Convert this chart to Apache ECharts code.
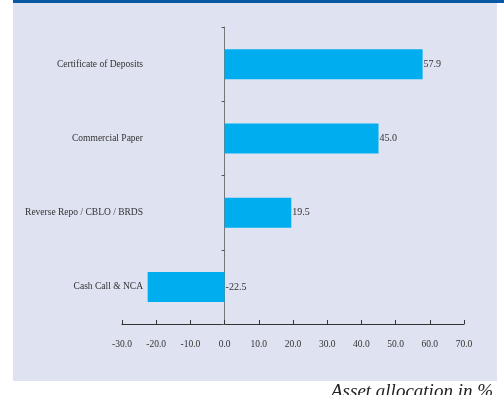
<!DOCTYPE html>
<html><head><meta charset="utf-8">
<script src="https://cdn.jsdelivr.net/npm/echarts@6/dist/echarts.min.js"></script>
<style>html,body{margin:0;padding:0;background:#fff}#c{width:504px;height:395px}</style>
</head><body><div id="c"></div>
<script>
var categories = ['Cash Call & NCA', 'Reverse Repo / CBLO / BRDS', 'Commercial Paper', 'Certificate of Deposits'];
var values = [-22.5, 19.5, 45.0, 57.9];
var xTicks = [-30, -20, -10, 0, 10, 20, 30, 40, 50, 60, 70];
var xTitle = 'Asset allocation in %';

var FONT = 'Liberation Serif';
var chart = echarts.init(document.getElementById('c'), null, {renderer: 'canvas'});
chart.setOption({
  animation: false,
  backgroundColor: '#ffffff',
  graphic: [
    {type: 'rect', z: -10, shape: {x: 13, y: 3, width: 484, height: 378}, style: {fill: '#dfe2f0'}},
    {type: 'rect', z: -10, shape: {x: 13, y: 0, width: 491, height: 3}, style: {fill: '#0a57a3'}},
    {type: 'text', right: 11, top: 382, style: {text: xTitle, font: 'italic 19px "Liberation Serif"', fill: '#222'}}
  ],
  grid: {left: 122, right: 40, top: 27, bottom: 71, containLabel: false, outerBoundsMode: 'none'},
  xAxis: {
    type: 'value', min: xTicks[0], max: xTicks[xTicks.length - 1], interval: 10,
    splitLine: {show: false},
    axisLine: {show: true, lineStyle: {color: '#333', width: 1.2}},
    axisTick: {show: true, inside: true, length: 4, lineStyle: {color: '#333'}},
    axisLabel: {margin: 15, fontFamily: FONT, fontSize: 9.5, color: '#333',
      formatter: function (v) { return v.toFixed(1); }}
  },
  yAxis: {
    type: 'category', data: categories,
    axisLine: {show: true, onZero: true, lineStyle: {color: '#777', width: 1}},
    axisTick: {show: true, length: 3, lineStyle: {color: '#555'}},
    axisLabel: {margin: -21, fontFamily: FONT, fontSize: 9.5, color: '#333'}
  },
  series: [{
    type: 'bar', data: values, barWidth: 30,
    itemStyle: {color: '#00aeef'},
    label: {show: true, position: 'right', distance: 1, fontFamily: FONT, fontSize: 10, color: '#333',
      formatter: function (p) { return p.value.toFixed(1); }}
  }]
});
</script></body></html>
